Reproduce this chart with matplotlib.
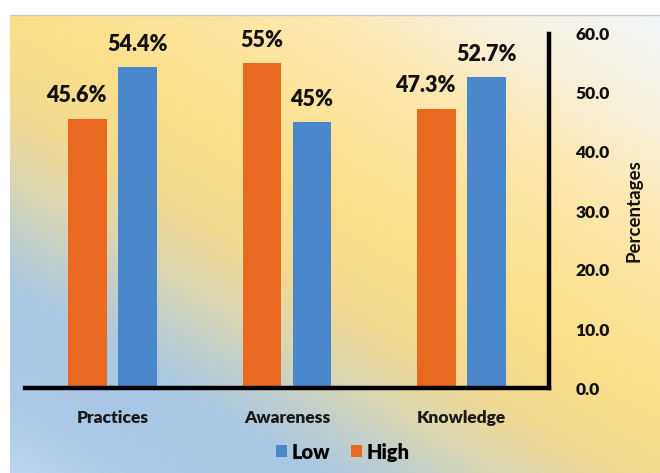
import numpy as np
import matplotlib
matplotlib.use('Agg')
import matplotlib.pyplot as plt
from matplotlib.colors import LinearSegmentedColormap
from matplotlib.lines import Line2D

categories = ['Practices', 'Awareness', 'Knowledge']
high = [45.6, 55.0, 47.3]
low = [54.4, 45.0, 52.7]
high_labels = ['45.6%', '55%', '47.3%']
low_labels = ['54.4%', '45%', '52.7%']
yticks = [0, 10, 20, 30, 40, 50, 60]

plt.rcParams['font.family'] = ['Lato', 'DejaVu Sans']
WEIGHT = 'heavy'

orange = '#E8691F'
blue = '#4A88CB'
W, H = 660, 473

fig = plt.figure(figsize=(W / 100, H / 100), dpi=100, facecolor='white')

# gradient background: blue bottom-left, yellow band, pale top-right
bg = fig.add_axes([10 / W, 0, 1 - 10 / W, (H - 15) / H])
bg.set_axis_off()
px = np.arange(10, W)
py = np.arange(15, H)
xx, yy = np.meshgrid(px, py)
t = (0.6 * xx + (H - yy)) / 848.0
cmap = LinearSegmentedColormap.from_list('bg', [
    (0.0, '#bfd6ee'),
    (0.1, '#abc9e8'),
    (0.22, '#a9c8e4'),
    (0.30, '#c4d0c8'),
    (0.36, '#dcd7ae'),
    (0.44, '#f2da92'),
    (0.55, '#fddf8a'),
    (0.65, '#fde39a'),
    (0.77, '#fce9b2'),
    (0.87, '#f7f0da'),
    (1.0, '#f2f5f7'),
])
bg.imshow(t, cmap=cmap, aspect='auto', interpolation='bilinear', vmin=0, vmax=1)
fig.add_artist(Line2D([10 / W, 1], [(H - 15) / H] * 2, color='#c8c8c8', lw=1))

ax = fig.add_axes([25 / W, (H - 388) / H, 524 / W, 354 / H])
ax.patch.set_alpha(0)

x = np.arange(len(categories))
bw = 0.223
off = 0.143
bh = ax.bar(x - off, high, bw, color=orange, zorder=2)
bl = ax.bar(x + off, low, bw, color=blue, zorder=2)

for xi, val, lab, other in zip(x, high, high_labels, low):
    dx = -8 if val < other else 0
    ax.annotate(lab, (xi - off, val), xytext=(dx, 9), textcoords='offset points',
                ha='center', va='bottom', fontsize=15.5, fontweight=WEIGHT, color='#111111')
for xi, val, lab in zip(x, low, low_labels):
    ax.annotate(lab, (xi + off, val), xytext=(0, 9), textcoords='offset points',
                ha='center', va='bottom', fontsize=15.5, fontweight=WEIGHT, color='#111111')

ax.set_xlim(-0.5, 2.5)
ax.set_ylim(0, 60)
ax.set_xticks(x)
ax.set_xticklabels(categories, fontsize=12.5, fontweight=WEIGHT, color='#1a1a1a')
ax.tick_params(axis='x', length=0, pad=16)
ax.yaxis.tick_right()
ax.yaxis.set_label_position('right')
ax.set_yticks(yticks)
ax.set_yticklabels([f'{v:.1f}' for v in yticks], fontsize=12.5, fontweight=WEIGHT, color='#111111')
ax.tick_params(axis='y', length=0, pad=19)
ax.set_ylabel('Percentages', fontsize=13.5, fontweight='bold', labelpad=11, color='#111111')

for s in ['left', 'top']:
    ax.spines[s].set_visible(False)
for s in ['bottom', 'right']:
    ax.spines[s].set_linewidth(3.2)
    ax.spines[s].set_color('black')
    ax.spines[s].set_capstyle('projecting')

fig.legend([bl, bh], ['Low', 'High'], loc='center', bbox_to_anchor=(343 / W, (H - 452) / H),
           ncol=2, frameon=False, handlelength=0.55, handleheight=0.55,
           handletextpad=0.25, columnspacing=1.0,
           prop={'weight': WEIGHT, 'size': 14.5})

fig.savefig('out.png', dpi=100, facecolor='white')
